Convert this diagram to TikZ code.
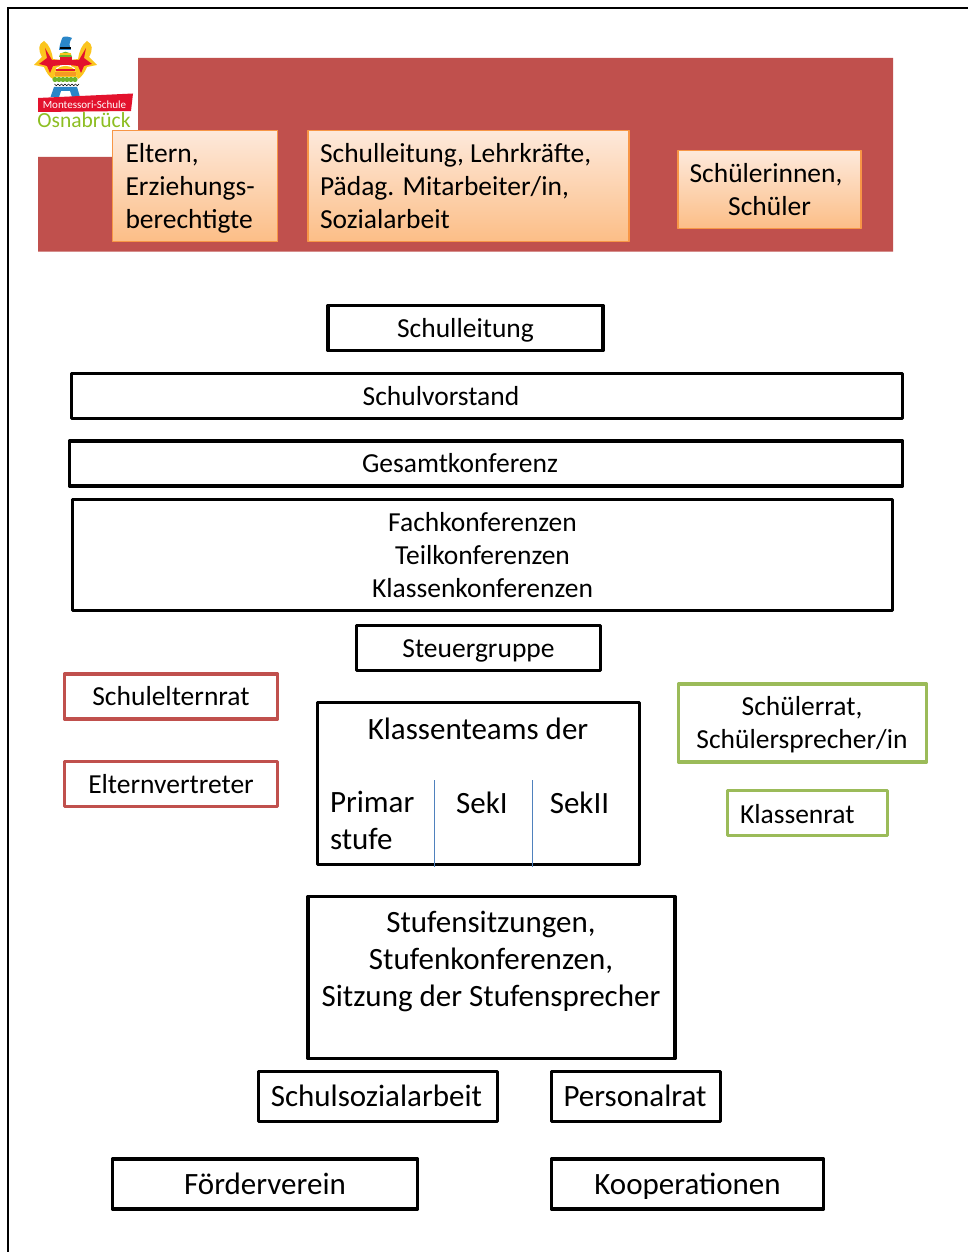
\documentclass[tikz,border=0pt]{standalone}
\usepackage{fontspec}
\setmainfont{Carlito}
\definecolor{bandred}{HTML}{C0504D}
\definecolor{grn}{HTML}{9BBB59}
\definecolor{orb}{HTML}{F79646}
\definecolor{ortop}{HTML}{FDE9DB}
\definecolor{orbot}{HTML}{FCBE87}
\definecolor{lineblue}{HTML}{4F81BD}
\definecolor{logogreen}{HTML}{8DBE22}
\definecolor{logored}{HTML}{E3122D}
\definecolor{logoyel}{HTML}{FBC51E}
\definecolor{logoblue}{HTML}{2A86C8}
\definecolor{logoorg}{HTML}{F59A23}
\definecolor{logogrn}{HTML}{6DB52C}
\newcommand{\fa}{\fontsize{27.5}{33}\selectfont}
\newcommand{\fb}{\fontsize{31}{37}\selectfont}
\tikzset{
  base/.style={inner sep=0pt,outer sep=0pt,align=center,text=black,line join=round},
  blackbox/.style={base,draw=black,line width=3.5pt},
  redbox/.style={base,draw=bandred,line width=3.5pt},
  greenbox/.style={base,draw=grn,line width=3.5pt},
  orangebox/.style={base,draw=orb,line width=1.5pt,top color=ortop,bottom color=orbot},
  label/.style={inner sep=0pt,outer sep=0pt,align=left,text=black},
  divider/.style={draw=lineblue,line width=1pt},
  sz/.style n args={2}{minimum width=#1pt,minimum height=#2pt},
  onea/.style={font=\fa,text height=18pt,text depth=0pt},
  oneb/.style={font=\fb,text height=20pt,text depth=0pt},
}
\begin{document}
\begin{tikzpicture}[x=1pt,y=-1pt]
\useasboundingbox (0,0) rectangle (968,1252);
\fill[white] (0,0) rectangle (968,1252);
% outer frame
\draw[black,line width=2pt] (968,8.5) -- (8,8.5) -- (8,1252);
% red band
\fill[bandred] (138,58) -- (893,58) -- (893,251.5) -- (38,251.5) -- (38,157) -- (138,157) -- cycle;
% logo
\foreach \s/\o in {1/0,-1/131}{
\begin{scope}[xshift=\o pt,xscale=\s]
\fill[logoyel] (44,41) .. controls (49,44) and (52,52) .. (53,59) -- (60,60) -- (60,66) -- (56,68) .. controls (56,72) and (55,76) .. (53,79) .. controls (50,78) and (46,72) .. (44,67) -- (34,65) -- (42,57) .. controls (38,50) and (38,44) .. (44,41) -- cycle;
\fill[logored] (62,60) -- (52,60) -- (45,48) -- (47,58) -- (39,64) -- (47,66) -- (50,73) -- (53,66) -- (62,65) -- cycle;
\end{scope}
}
\fill[logoblue] (59,50) .. controls (60,43) and (62,38) .. (63,37) .. controls (66,36) and (70,37) .. (72,38) .. controls (69,42) and (69,46) .. (71,50) -- cycle;
\fill[black] (60,47.5) rectangle (71,49.5);
\fill[logogrn] (59,57) .. controls (60,50) and (71,50) .. (72,57) -- cycle;
\fill[logoyel] (60,53) rectangle (71,55);
\fill[logored] (60,57) rectangle (72,65);
\fill[logoyel] (56,72) .. controls (57,64) and (74,64) .. (75,72) -- cycle;
\fill[logoorg] (55,72) rectangle (76,76);
\fill[logored] (56,69) rectangle (75,71);
\foreach \xx in {55,59,63,67,71,75}{\fill[logogrn] (\xx,79.5) circle (2.6pt);}
\fill[logoyel] (54,76) rectangle (77,77.5);
\fill[white] (53,82) rectangle (78,87);
\foreach \xx in {54.5,58,61.5,65,68.5,72,75.5}{\draw[black,line width=.7pt] (\xx,84) arc[start angle=180,end angle=360,radius=1.75pt];}
\fill[logoblue] (54,87) -- (77,87) -- (80,97) -- (72,97) -- (70,91) -- (61,91) -- (59,97) -- (50.5,97) -- cycle;
\fill[logored] (38,98) -- (133,93.5) -- (131,111) -- (38,112) -- cycle;
\node[base,text=white,font=\fontsize{11}{11}\selectfont] (logotop) at (84.5,104.5) {Montessori-Schule};
\node[base,text=logogreen,font=\fontsize{21.5}{21.5}\selectfont] (logoname) at (84,120.5) {Osnabrück};
% orange boxes
\node[orangebox,sz={165}{111}] (eltern) at (195,186) {};
\node[label,anchor=west,font=\fa] (elterntxt) at (125.5,188) {Eltern,\\Erziehungs-\\berechtigte};
\node[orangebox,sz={321}{111}] (lehrer) at (468.5,186) {};
\node[label,anchor=west,font=\fa] (lehrertxt) at (320,186.5) {Schulleitung, Lehrkräfte,\\Pädag. Mitarbeiter/in,\\Sozialarbeit};
\node[orangebox,sz={183}{78},font=\fa] (schueler) at (769.5,189.5) {Schülerinnen,\hphantom{.}\\Schüler};
% black boxes
\node[blackbox,sz={275}{45},onea] (sl) at (465.5,328) {Schulleitung};
\node[blackbox,sz={831}{45}] (sv) at (487,396) {};
\node[label,onea] (svt) at (441,396.5) {Schulvorstand};
\node[blackbox,sz={833}{45}] (gk) at (486,463.5) {};
\node[label,onea] (gkt) at (460,463.5) {Gesamtkonferenz};
\node[blackbox,sz={820}{111},font=\fa] (fk) at (482.5,555) {Fachkonferenzen\\Teilkonferenzen\\Klassenkonferenzen};
\node[blackbox,sz={244}{45},onea] (sg) at (478.5,648) {Steuergruppe};
\node[redbox,sz={213}{45},onea] (ser) at (171,696.5) {Schulelternrat};
\node[redbox,sz={213}{45},onea] (ev) at (171,784) {Elternvertreter};
\node[greenbox,sz={248}{78}] (sr) at (802.5,723) {};
\node[label,align=center,font=\fa] (srt) at (802,725) {Schülerrat,\\Schülersprecher/in};
\node[greenbox,sz={160}{45}] (kr) at (807.5,813) {};
\node[label,onea,anchor=west] (krt) at (740,814) {Klassenrat};
% Klassenteams
\node[blackbox,sz={322}{162}] (kt) at (478.5,783.5) {};
\node[label,oneb] (ktt) at (478,729) {Klassenteams der};
\node[label,font=\fb,anchor=north west] (ps) at (330,791) {Primar\\stufe};
\node[label,oneb] (s1) at (482,803) {SekI};
\node[label,oneb] (s2) at (579.5,803) {SekII};
\coordinate (d1a) at (434.5,780); \coordinate (d1b) at (434.5,867);
\coordinate (d2a) at (532.5,780); \coordinate (d2b) at (532.5,867);
\draw[divider] (d1a) -- (d1b);
\draw[divider] (d2a) -- (d2b);
% lower
\node[blackbox,sz={367}{162}] (st) at (491.5,977.5) {};
\node[label,align=center,font=\fb,anchor=north] (stt) at (491,911) {Stufensitzungen,\\Stufenkonferenzen,\\Sitzung der Stufensprecher};
\node[blackbox,sz={239}{50}] (ssa) at (378,1096.5) {};
\node[label,oneb] (ssat) at (376.5,1096.5) {Schulsozialarbeit};
\node[blackbox,sz={169}{50}] (pr) at (636,1096.5) {};
\node[label,oneb] (prt) at (635,1096.5) {Personalrat};
\node[blackbox,sz={305}{50},oneb] (fv) at (265,1184) {Förderverein};
\node[blackbox,sz={272}{50},oneb] (ko) at (687.5,1184) {Kooperationen};
\end{tikzpicture}
\end{document}
